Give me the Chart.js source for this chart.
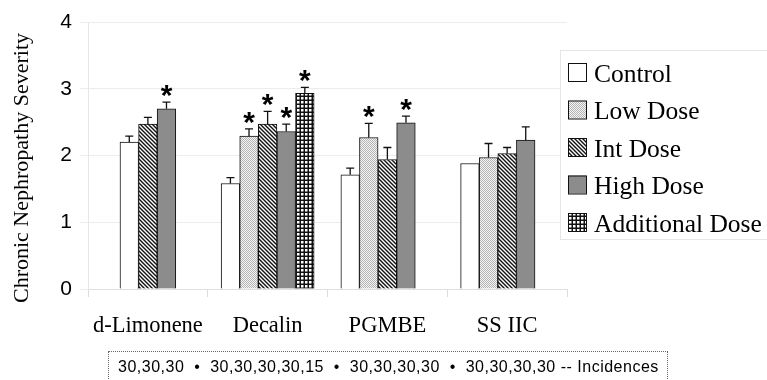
<!DOCTYPE html>
<html>
<head>
<meta charset="utf-8">
<script src="https://cdn.jsdelivr.net/npm/chart.js"></script>
<style>
    body { margin: 0; background: #fff; }
    #wrap { position: relative; width: 767px; height: 380px; overflow: hidden; }
    #incidences {
        position: absolute; left: 108px; top: 351px; width: 560px; height: 40px;
        border: 1px dotted #666; box-sizing: border-box;
        font: 16px 'Liberation Sans', Arial, sans-serif; letter-spacing: 0.5px;
        line-height: 17px; padding: 6px 0 0 9px; white-space: pre; color: #000;
    }
</style>
</head>
<body>
<div id="wrap">
    <canvas id="chart" width="767" height="380"></canvas>
    <div id="incidences"></div>
</div>
<script>
const categories = ['d-Limonene', 'Decalin', 'PGMBE', 'SS IIC'];
const seriesNames = ['Control', 'Low Dose', 'Int Dose', 'High Dose', 'Additional Dose'];

// mean severity per group (null = group not tested)
const controlVals = [2.20, 1.58, 1.71, 1.88];
const lowVals = [null, 2.29, 2.27, 1.97];
const intVals = [2.47, 2.47, 1.94, 2.03];
const highVals = [2.70, 2.36, 2.49, 2.23];
// 0 keeps the empty slot for PGMBE / SS IIC like the original layout
const additionalVals = [null, 2.93, 0, 0];

// standard error (upper bar only)
const controlErr = [0.09, 0.09, 0.10, null];
const lowErr = [null, 0.11, 0.21, 0.21];
const intErr = [0.10, 0.19, 0.18, 0.09];
const highErr = [0.10, 0.11, 0.10, 0.20];
const additionalErr = [null, 0.09, null, null];

// significant vs control (asterisk)
const controlSig = [false, false, false, false];
const lowSig = [false, true, true, false];
const intSig = [false, true, false, false];
const highSig = [true, true, true, false];
const additionalSig = [false, true, false, false];

const yTicks = [0, 1, 2, 3, 4];
const incidences = ['30,30,30', '30,30,30,30,15', '30,30,30,30', '30,30,30,30'];

document.getElementById('incidences').textContent = incidences.join('  \u2022  ') + ' -- Incidences';

function makePattern(size, draw) {
    const c = document.createElement('canvas');
    c.width = size;
    c.height = size;
    const g = c.getContext('2d');
    draw(g, size);
    return document.getElementById('chart').getContext('2d').createPattern(c, 'repeat');
}

const stipple = makePattern(2, (g) => {
    g.fillStyle = '#f4f4f4';
    g.fillRect(0, 0, 2, 2);
    g.fillStyle = '#b4b4b4';
    g.fillRect(0, 0, 1, 1);
    g.fillRect(1, 1, 1, 1);
});

const hatch = makePattern(4, (g, s) => {
    g.fillStyle = '#fff';
    g.fillRect(0, 0, s, s);
    g.strokeStyle = '#111';
    g.lineWidth = 1.4;
    g.beginPath();
    g.moveTo(-1, -1); g.lineTo(s + 1, s + 1);
    g.moveTo(-1, s - 1); g.lineTo(1, s + 1);
    g.moveTo(s - 1, -1); g.lineTo(s + 1, 1);
    g.stroke();
});

const grid = makePattern(4, (g, s) => {
    g.fillStyle = '#111';
    g.fillRect(0, 0, s, s);
    g.fillStyle = '#fff';
    g.fillRect(1, 1, 2.5, 2.5);
});

const fills = ['#ffffff', stipple, hatch, '#8c8c8c', grid];
const values = [controlVals, lowVals, intVals, highVals, additionalVals];
const errors = [controlErr, lowErr, intErr, highErr, additionalErr];
const sigs = [controlSig, lowSig, intSig, highSig, additionalSig];

const datasets = seriesNames.map((name, i) => ({
    label: name,
    data: values[i],
    errors: errors[i],
    sig: sigs[i],
    legendFill: fills[i],
    backgroundColor: ctx => (ctx.raw ? fills[i] : 'rgba(0,0,0,0)'),
    borderColor: '#111',
    borderWidth: ctx => (ctx.raw ? 1 : 0),
    borderSkipped: 'bottom',
    barThickness: 18.6,
    skipNull: true
}));

const extras = {
    id: 'extras',
    afterDatasetsDraw(chart) {
        const ctx = chart.ctx;
        const y = chart.scales.y;
        ctx.save();
        chart.data.datasets.forEach((ds, i) => {
            const meta = chart.getDatasetMeta(i);
            meta.data.forEach((bar, j) => {
                const v = ds.data[j];
                if (v === null || v === 0) return;
                let top = bar.y;
                const e = ds.errors[j];
                if (e !== null) {
                    top = y.getPixelForValue(v + e);
                    ctx.strokeStyle = '#111';
                    ctx.lineWidth = 1.3;
                    ctx.beginPath();
                    ctx.moveTo(bar.x, bar.y);
                    ctx.lineTo(bar.x, top);
                    ctx.moveTo(bar.x - 4, top);
                    ctx.lineTo(bar.x + 4, top);
                    ctx.stroke();
                }
                if (ds.sig[j]) {
                    ctx.fillStyle = '#000';
                    ctx.font = 'bold 30px "Liberation Sans"';
                    ctx.textAlign = 'center';
                    ctx.textBaseline = 'alphabetic';
                    ctx.fillText('*', bar.x, top + 3);
                }
            });
        });
        ctx.restore();
    },
    afterDraw(chart) {
        const ctx = chart.ctx;
        ctx.save();
        // y axis title
        ctx.translate(28, 168);
        ctx.rotate(-Math.PI / 2);
        ctx.fillStyle = '#000';
        ctx.font = '22px "Liberation Serif"';
        ctx.textAlign = 'center';
        ctx.textBaseline = 'alphabetic';
        ctx.fillText('Chronic Nephropathy Severity', 0, 0);
        ctx.restore();

        // legend box
        ctx.save();
        ctx.fillStyle = '#fff';
        ctx.fillRect(560, 50, 207, 190);
        ctx.strokeStyle = '#e6e6e6';
        ctx.lineWidth = 1;
        ctx.strokeRect(560.5, 50.5, 210, 189);
        ctx.font = '25.5px "Liberation Serif"';
        ctx.textBaseline = 'alphabetic';
        ctx.textAlign = 'left';
        chart.data.datasets.forEach((ds, i) => {
            const cy = 72 + i * 37.5;
            ctx.fillStyle = ds.legendFill;
            ctx.fillRect(568, cy - 9, 18, 18);
            ctx.strokeStyle = '#111';
            ctx.strokeRect(568.5, cy - 8.5, 18, 18);
            ctx.fillStyle = '#000';
            ctx.fillText(ds.label, 594, cy + 9.5);
        });
        ctx.restore();
    }
};

new Chart(document.getElementById('chart'), {
    type: 'bar',
    data: { labels: categories, datasets: datasets },
    options: {
        responsive: false,
        animation: false,
        layout: { padding: { left: 0, right: 200, top: 22, bottom: 0 } },
        plugins: { legend: { display: false }, tooltip: { enabled: false } },
        scales: {
            x: {
                grid: { offset: true, drawOnChartArea: false, color: '#dcdcdc', tickLength: 8 },
                border: { color: '#e0e0e0' },
                ticks: { color: '#000', font: { family: 'Liberation Serif', size: 22.5 }, padding: 16 },
                afterFit: (s) => { s.height = 91; }
            },
            y: {
                min: 0,
                max: 4,
                afterBuildTicks: (s) => { s.ticks = yTicks.map(v => ({ value: v })); },
                grid: { color: '#ececec', tickLength: 8 },
                border: { color: '#e6e6e6' },
                ticks: { color: '#000', font: { family: 'Liberation Sans', size: 21 }, padding: 8 },
                afterFit: (s) => { s.width = 88; }
            }
        }
    },
    plugins: [extras]
});
</script>
</body>
</html>
